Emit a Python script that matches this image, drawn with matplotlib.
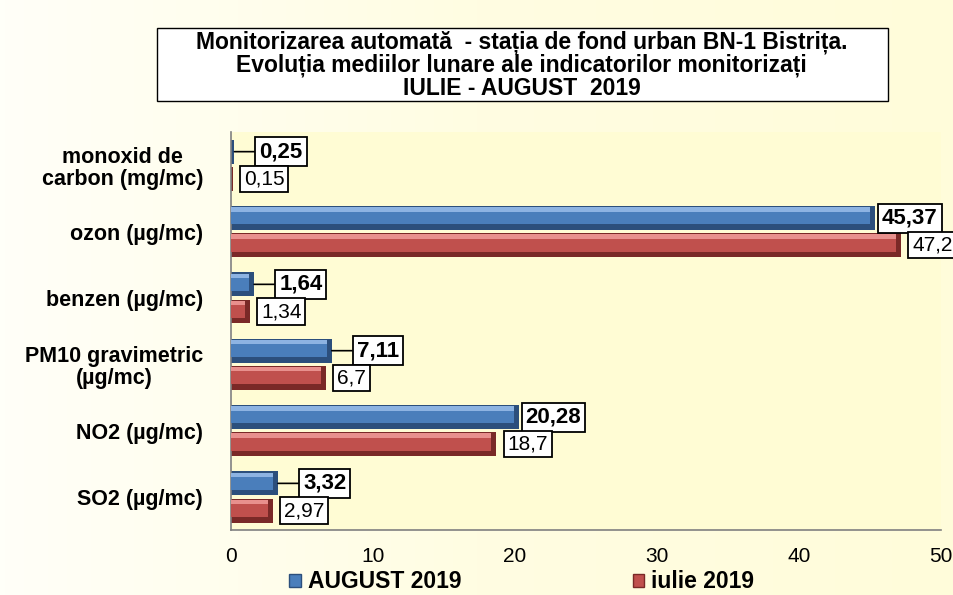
import numpy as np
import matplotlib.pyplot as plt
from matplotlib.patches import Patch, Rectangle
from matplotlib.colors import LinearSegmentedColormap

plt.rcParams['font.family'] = ['Liberation Sans', 'DejaVu Sans']

categories = ['monoxid de\ncarbon (mg/mc)', 'ozon (µg/mc)', 'benzen (µg/mc)',
              'PM10 gravimetric\n(µg/mc)', 'NO2 (µg/mc)', 'SO2 (µg/mc)']
august = [0.25, 45.37, 1.64, 7.11, 20.28, 3.32]
iulie = [0.15, 47.2, 1.34, 6.7, 18.7, 2.97]
series_names = ['AUGUST 2019', 'iulie 2019']
xticks = [0, 10, 20, 30, 40, 50]

title = ('Monitorizarea automată  - stația de fond urban BN-1 Bistrița.\n'
         'Evoluția mediilor lunare ale indicatorilor monitorizați\n'
         'IULIE - AUGUST  2019')

blue, blue_dark, blue_light = '#4A7EBB', '#2C4F7C', '#8DB3E2'
red, red_dark, red_light = '#C0504D', '#7A2927', '#E8908D'

fig = plt.figure(figsize=(9.54, 5.95), dpi=100)

# soft yellow background gradient
bg = fig.add_axes([0, 0, 1, 1], zorder=-10)
grad = np.tile(np.linspace(0, 1, 200), (50, 1))
cmap = LinearSegmentedColormap.from_list('bg', ['#FFFFF8', '#FFFDE2', '#FFFCDA'])
bg.imshow(grad, aspect='auto', cmap=cmap, extent=[0, 1, 0, 1])
bg.axis('off')

ax = fig.add_axes([0.242, 0.109, 0.744, 0.669])
ax.set_facecolor('#FFFCD4')

n = len(categories)
y = np.arange(n)[::-1].astype(float)
h = 0.36
gap = 0.05
yb = y + (h + gap) / 2
yr = y - (h + gap) / 2


def bevel_bars(ypos, vals, c, cd, cl):
    # dark base, main face, light top edge -> a simple bevelled look
    ax.barh(ypos, vals, height=h, color=cd, linewidth=0, zorder=2)
    inner = [max(v - 0.35, 0.03) for v in vals]
    ax.barh(ypos + h * 0.08, inner, height=h * 0.7, color=c, linewidth=0, zorder=3)
    ax.barh(ypos + h * 0.36, inner, height=h * 0.18, color=cl, linewidth=0, zorder=4)


bevel_bars(yb, august, blue, blue_dark, blue_light)
bevel_bars(yr, iulie, red, red_dark, red_light)

box = dict(boxstyle='square,pad=0.18', fc='white', ec='black', lw=1.3)
for yy, v in zip(yb, august):
    txt = f'{v:.2f}'.replace('.', ',')
    if v > 15:
        ax.annotate(txt, (v, yy), xytext=(5, 0), textcoords='offset points',
                    va='center', ha='left', fontsize=16, fontweight='bold',
                    bbox=box, zorder=6, annotation_clip=False)
    else:
        ax.annotate(txt, (v, yy), xytext=(18, 0), textcoords='offset points',
                    va='center', ha='left', fontsize=16, fontweight='bold',
                    bbox=box, zorder=6, annotation_clip=False,
                    arrowprops=dict(arrowstyle='-', color='black', lw=1.2,
                                    shrinkA=0, shrinkB=0))
for yy, v in zip(yr, iulie):
    txt = ('%g' % v).replace('.', ',')
    ax.annotate(txt, (v, yy), xytext=(8, 0), textcoords='offset points',
                va='center', ha='left', fontsize=15,
                bbox=box, zorder=6, annotation_clip=False)

ax.set_xlim(0, 50)
ax.set_ylim(-0.5, n - 0.5)
ax.set_xticks(xticks)
ax.set_xticklabels([str(t) for t in xticks], fontsize=15)
ax.set_yticks(y)
ax.set_yticklabels(categories, fontsize=15.5, fontweight='bold', linespacing=1.1)
for lab in ax.get_yticklabels():
    lab.set_multialignment('center')
ax.tick_params(axis='y', length=0, pad=20)
ax.tick_params(axis='x', length=0, pad=12)
for s in ['top', 'right']:
    ax.spines[s].set_visible(False)
for s in ['left', 'bottom']:
    ax.spines[s].set_color('#808080')
    ax.spines[s].set_linewidth(1.2)

# title in a white framed box
fig.patches.append(Rectangle((0.1646, 0.8303), 0.766, 0.1227, transform=fig.transFigure,
                             fc='white', ec='black', lw=1, zorder=1))
fig.text(0.547, 0.890, title, ha='center', va='center', fontsize=16.5,
         fontweight='bold', linespacing=0.98, zorder=2)

handles = [Patch(fc=blue, ec=blue_dark), Patch(fc=red, ec=red_dark)]
fig.legend(handles, series_names, loc='center', bbox_to_anchor=(0.547, 0.022),
           ncol=2, frameon=False, handlelength=0.5, handleheight=0.5,
           handletextpad=0.3, columnspacing=7.5,
           prop={'size': 16.5, 'weight': 'bold'})

fig.savefig('out.png', dpi=100)
